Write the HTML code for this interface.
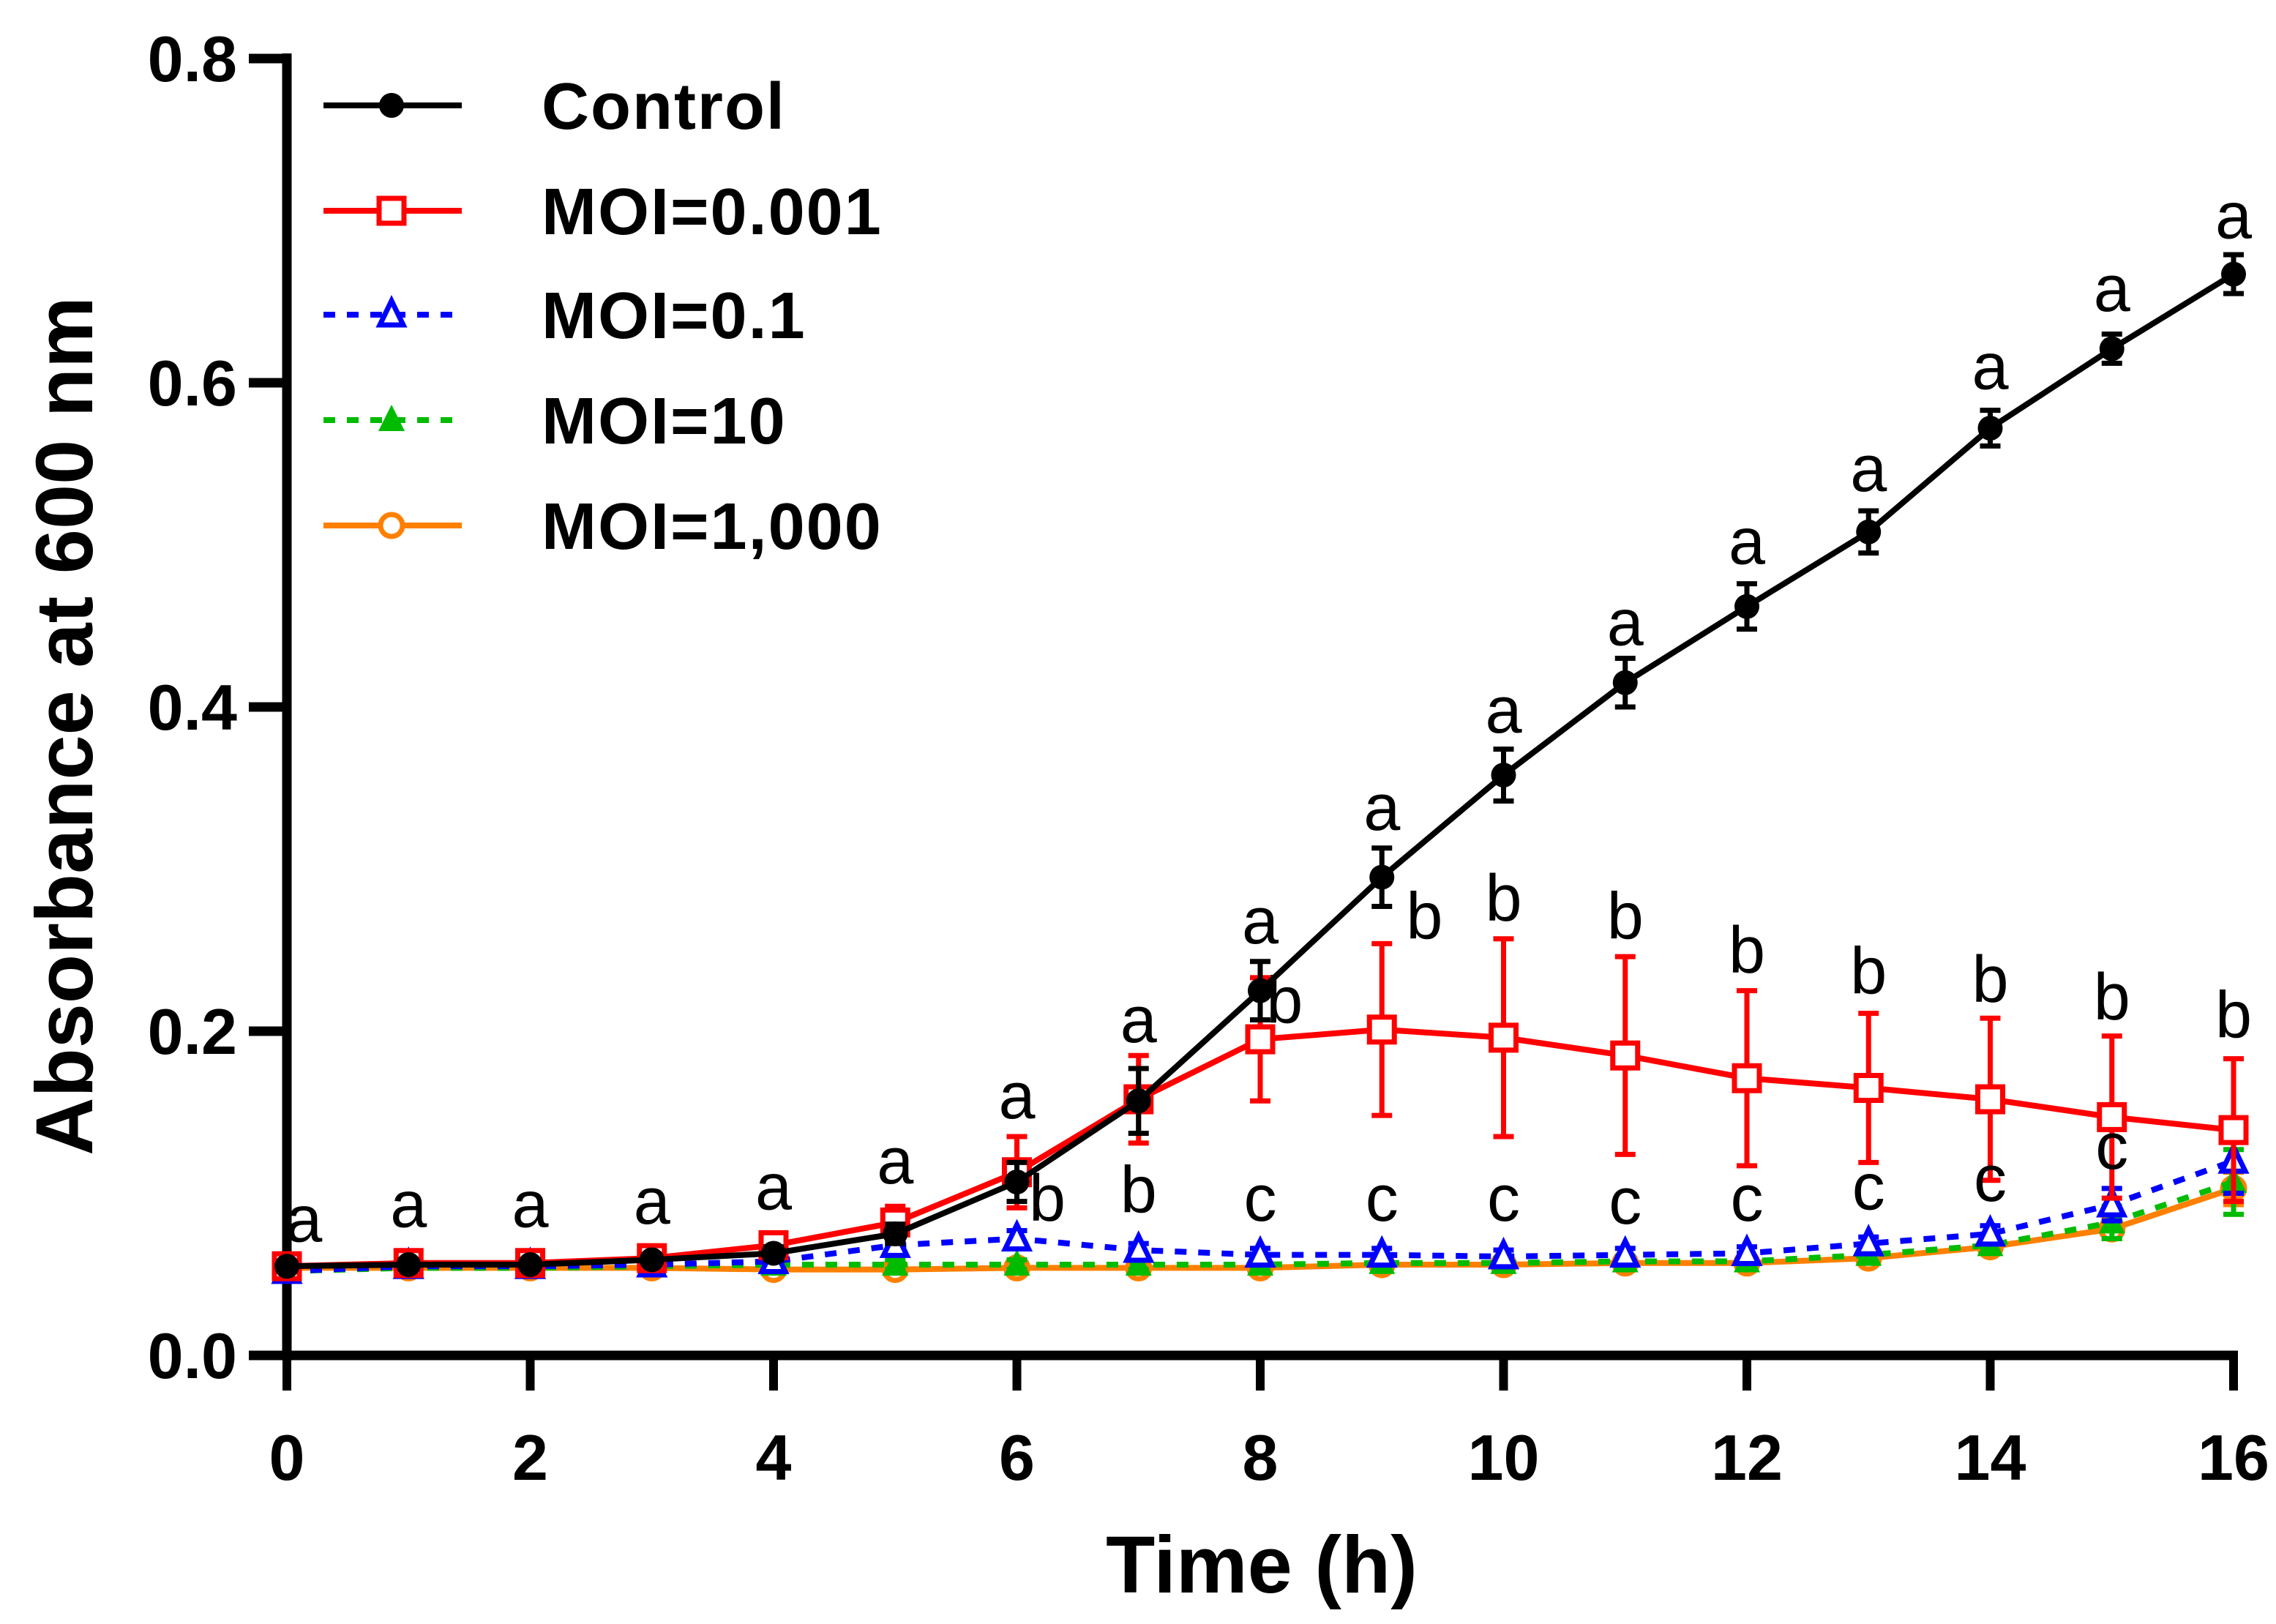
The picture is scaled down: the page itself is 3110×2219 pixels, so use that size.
<!DOCTYPE html>
<html><head><meta charset="utf-8"><style>
html,body{margin:0;padding:0;background:#fff;}
svg{display:block;font-family:"Liberation Sans",Arial,sans-serif;}
</style></head><body>
<svg id="chart" width="3110" height="2219" viewBox="0 0 3110 2219" xmlns="http://www.w3.org/2000/svg">
<g id="plot"></g>
</svg>
<script>
const hours = [0,1,2,3,4,5,6,7,8,9,10,11,12,13,14,15,16];
const controlVals = [0.055,0.056,0.056,0.059,0.063,0.075,0.107,0.157,0.225,0.295,0.358,0.415,0.462,0.508,0.572,0.621,0.667];
const controlErr = [0.003,0.003,0.003,0.003,0.004,0.006,0.012,0.02,0.018,0.018,0.016,0.015,0.014,0.013,0.011,0.009,0.012];
const moi0001Vals = [0.055,0.057,0.057,0.060,0.068,0.082,0.113,0.158,0.195,0.201,0.196,0.185,0.171,0.165,0.158,0.147,0.139];
const moi0001Err = [0.003,0.003,0.003,0.003,0.005,0.01,0.022,0.027,0.038,0.053,0.061,0.061,0.054,0.046,0.05,0.05,0.044];
const moi01Vals = [0.052,0.055,0.055,0.056,0.058,0.068,0.072,0.065,0.062,0.062,0.061,0.062,0.063,0.069,0.075,0.093,0.120];
const moi01Err = [0.003,0.003,0.003,0.003,0.003,0.004,0.005,0.004,0.004,0.004,0.004,0.004,0.004,0.004,0.005,0.01,0.02];
const moi10Vals = [0.052,0.054,0.054,0.055,0.056,0.056,0.056,0.056,0.056,0.057,0.057,0.058,0.058,0.062,0.068,0.082,0.107];
const moi10Err = [0.003,0.003,0.003,0.003,0.003,0.003,0.003,0.003,0.003,0.003,0.003,0.003,0.003,0.004,0.004,0.01,0.02];
const moi1000Vals = [0.054,0.054,0.054,0.054,0.053,0.053,0.054,0.054,0.054,0.056,0.056,0.057,0.057,0.060,0.067,0.078,0.103];
const moi1000Err = [0.003,0.003,0.003,0.003,0.003,0.003,0.003,0.003,0.003,0.003,0.003,0.003,0.003,0.003,0.004,0.006,0.01];
const xTicks = [0,2,4,6,8,10,12,14,16];
const yTicks = [0,0.2,0.4,0.6,0.8];
const yTickLabels = ["0.0","0.2","0.4","0.6","0.8"];
const letterText = ["a","a","a","a","a","a","a","a","a","a","a","a","a","a","a","a","a","b","b","b","b","b","b","b","b","b","b","b","c","c","c","c","c","c","c","c"];
const letterX = [0.14,1,2,3,4,5,6,7,8,9,10,11,12,13,14,15,16,6.25,7,8.2,9.35,10,11,12,13,14,15,16,8,9,10,11,12,13,14,15];
const letterY = [0.081,0.090,0.090,0.092,0.101,0.117,0.157,0.204,0.265,0.335,0.395,0.449,0.499,0.544,0.607,0.655,0.700,0.094,0.099,0.216,0.268,0.279,0.268,0.247,0.234,0.229,0.218,0.207,0.094,0.094,0.094,0.092,0.094,0.101,0.106,0.126];

const X0=392, X1=3052, Y0=1852, Y1=80;
const xs = h => X0 + (X1-X0)*h/16;
const ys = v => Y0 - (Y0-Y1)*v/0.8;
const NS="http://www.w3.org/2000/svg";
const plot=document.getElementById('plot');
function mk(tag, attrs, parent){const e=document.createElementNS(NS,tag);for(const k in attrs)e.setAttribute(k,attrs[k]);(parent||plot).appendChild(e);return e;}

let ax=mk('line',{x1:X0,y1:Y1-7,x2:X0,y2:Y0+7,stroke:'#000','stroke-width':13});


ax=mk('line',{x1:X0-52,y1:Y0,x2:X1+6,y2:Y0,stroke:'#000','stroke-width':13});


yTicks.forEach((v,i)=>{
  const t=mk('line',{x1:X0-52,y1:ys(v),x2:X0,y2:ys(v),stroke:'#000','stroke-width':13});
  
  
  const l=mk('text',{x:X0-68,y:ys(v)+31,'text-anchor':'end','font-size':88,'font-weight':'bold'});
  l.textContent=yTickLabels[i];
  
  
});
xTicks.forEach(h=>{
  const t=mk('line',{x1:xs(h),y1:Y0,x2:xs(h),y2:Y0+48,stroke:'#000','stroke-width':12});
  
  
  const l=mk('text',{x:xs(h),y:Y0+170,'text-anchor':'middle','font-size':88,'font-weight':'bold'});
  l.textContent=String(h);
  
  
});
let tt=mk('text',{x:1724,y:2176,'text-anchor':'middle','font-size':110,'font-weight':'bold'});
tt.textContent='Time (h)';


tt=mk('text',{x:0,y:0,'text-anchor':'middle','font-size':110,'font-weight':'bold',transform:'translate(126,992) rotate(-90)'});
tt.textContent='Absorbance at 600 nm';



function marker(g,type,color,cx,cy){
  let m;
  if(type==='circle') m=mk('circle',{cx:cx,cy:cy,r:17,fill:color},g);
  else if(type==='square') m=mk('rect',{x:cx-17,y:cy-17,width:34,height:34,fill:'#fff',stroke:color,'stroke-width':7},g);
  else if(type==='otri') m=mk('polygon',{points:`${cx},${cy-19} ${cx+16},${cy+14} ${cx-16},${cy+14}`,fill:'#fff',stroke:color,'stroke-width':7},g);
  else if(type==='tri') m=mk('polygon',{points:`${cx},${cy-21} ${cx+18},${cy+15} ${cx-18},${cy+15}`,fill:color},g);
  else m=mk('circle',{cx:cx,cy:cy,r:15,fill:'#fff',stroke:color,'stroke-width':7},g);
  
  
}
const seriesList=[
 ['moi-1000',moi1000Vals,moi1000Err,'#ff8000','ocircle',null],
 ['moi-10',moi10Vals,moi10Err,'#00bb00','tri','16 16'],
 ['moi-0.1',moi01Vals,moi01Err,'#0000ff','otri','16 16'],
 ['moi-0.001',moi0001Vals,moi0001Err,'#ff0000','square',null],
 ['control',controlVals,controlErr,'#000','circle',null]
];
seriesList.forEach(s=>{
  const [name,vals,errs,color,mt,dash]=s;
  const g=mk('g',{});
  
  
  vals.forEach((v,i)=>{
    const x=xs(hours[i]), top=ys(v+errs[i]), bot=ys(v-errs[i]);
    const e=mk('path',{d:`M${x},${top}V${bot}M${x-14},${top}H${x+14}M${x-14},${bot}H${x+14}`,stroke:color,'stroke-width':7,fill:'none'},g);
    
    
  });
  const p=mk('polyline',{points:vals.map((v,i)=>xs(hours[i])+','+ys(v)).join(' '),fill:'none',stroke:color,'stroke-width':8});
  g.appendChild(p);
  if(dash)p.setAttribute('stroke-dasharray',dash);
  
  
  vals.forEach((v,i)=>marker(g,mt,color,xs(hours[i]),ys(v)));
});
letterText.forEach((t,i)=>{
  const l=mk('text',{x:xs(letterX[i]),y:ys(letterY[i])+24,'text-anchor':'middle','font-size':90});
  l.textContent=t;
  
  
});
const legNames=['Control','MOI=0.001','MOI=0.1','MOI=10','MOI=1,000'];
const legColors=['#000','#ff0000','#0000ff','#00bb00','#ff8000'];
const legMarkers=['circle','square','otri','tri','ocircle'];
const legDash=[null,null,'16 16','16 16',null];
const legY=[144,288,430,574,718];
legNames.forEach((n,i)=>{
  const g=mk('g',{});
  
  
  const l=mk('line',{x1:442,y1:legY[i],x2:631,y2:legY[i],stroke:legColors[i],'stroke-width':8},g);
  if(legDash[i])l.setAttribute('stroke-dasharray',legDash[i]);
  marker(g,legMarkers[i],legColors[i],535,legY[i]);
  const t=mk('text',{x:740,y:legY[i]+32,'font-size':90,'font-weight':'bold','letter-spacing':2},g);
  t.textContent=n;
});
</script>
</body></html>
